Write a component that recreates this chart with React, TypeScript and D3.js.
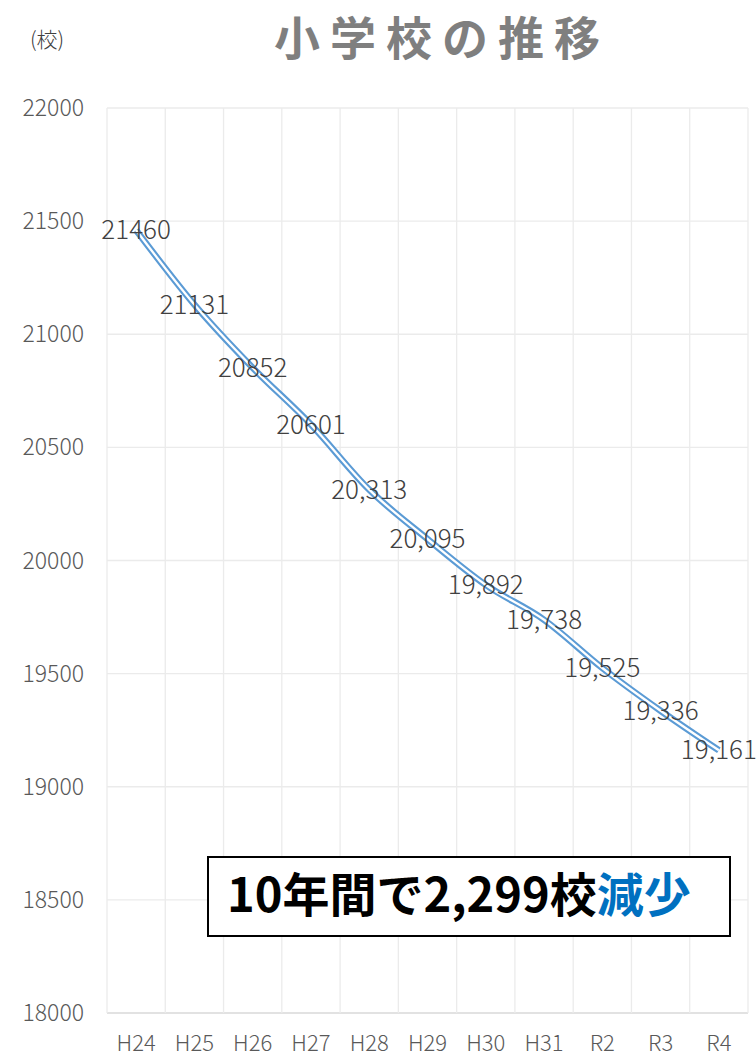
import React from 'react';
import * as d3 from 'd3';

const years = ['H24', 'H25', 'H26', 'H27', 'H28', 'H29', 'H30', 'H31', 'R2', 'R3', 'R4'];
const schools = [21460, 21131, 20852, 20601, 20313, 20095, 19892, 19738, 19525, 19336, 19161];
const valueLabels = ['21460', '21131', '20852', '20601', '20,313', '20,095', '19,892', '19,738', '19,525', '19,336', '19,161'];
const yTicks = [18000, 18500, 19000, 19500, 20000, 20500, 21000, 21500, 22000];

const W = 756;
const H = 1057;
const font = '"Noto Sans CJK JP", "Noto Sans", sans-serif';

export default function App() {
    const left = 107, right = 748, top = 108, bottom = 1013;

    const x = d3.scaleBand().domain(years).range([left, right]);
    const y = d3.scaleLinear().domain([18000, 22000]).range([bottom, top]);
    const cx = (d: string) => (x(d) || 0) + x.bandwidth() / 2;

    const line = d3.line<number>()
        .x((d, i) => cx(years[i]))
        .y(d => y(d))
        .curve(d3.curveMonotoneX);
    const path = line(schools) || '';

    const vLines = years.map(d => x(d) || 0).concat([right]);

    return (
        <svg width={W} height={H} style={{ position: 'absolute', left: 0, top: 0, background: '#fff' }}
            fontFamily={font}>
            {/* grid */}
            {yTicks.map(t => (
                <line key={'h' + t} x1={left} x2={right} y1={y(t)} y2={y(t)}
                    stroke={t === 18000 ? '#d9d9d9' : '#ebebeb'} strokeWidth={1.3} />
            ))}
            {vLines.map((v, i) => (
                <line key={'v' + i} x1={v} x2={v} y1={top} y2={bottom} stroke="#ebebeb" strokeWidth={1.3} />
            ))}

            {/* y axis labels */}
            {yTicks.map(t => (
                <text key={'yt' + t} x={84} y={y(t)} dy="0.35em" textAnchor="end"
                    fontSize={23} fontWeight={300} fill="#595959">{t}</text>
            ))}

            {/* x axis labels */}
            {years.map(d => (
                <text key={'xt' + d} x={cx(d)} y={1051} textAnchor="middle"
                    fontSize={22} fontWeight={300} fill="#595959">{d}</text>
            ))}

            {/* double line */}
            <path d={path} fill="none" stroke="#5B9BD5" strokeWidth={6.5} strokeLinejoin="round" />
            <path d={path} fill="none" stroke="#ffffff" strokeWidth={2.3} strokeLinejoin="round" />

            {/* data labels */}
            {schools.map((v, i) => (
                <text key={'dl' + i} x={cx(years[i])} y={y(v)} dy="0.35em" textAnchor="middle"
                    fontSize={26} fontWeight={300} fill="#404040">{valueLabels[i]}</text>
            ))}

            {/* title */}
            <text x={442} y={55} textAnchor="middle" fontSize={46} fontWeight="bold"
                fill="#7f7f7f" letterSpacing={10}>小学校の推移</text>
            <text x={47} y={40} dy="0.35em" textAnchor="middle" fontSize={21} fontWeight={300} fill="#404040">(校)</text>

            {/* annotation */}
            <rect x={208} y={857} width={522} height={79} fill="#fff" stroke="#000" strokeWidth={2} />
            <text x={227} y={896} dy="0.35em" fontSize={47} fontWeight="bold" fill="#000">
                10年間で2,299校<tspan fill="#0070C0">減少</tspan>
            </text>
        </svg>
    );
}
